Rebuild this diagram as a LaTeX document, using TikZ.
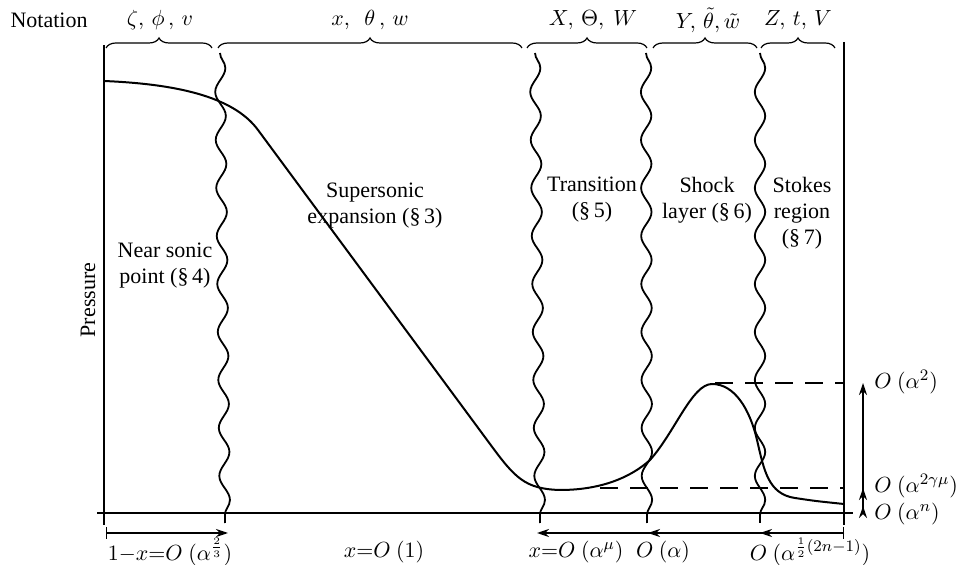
\documentclass[tikz,border=0pt]{standalone}
\usepackage{fontspec}
\setmainfont{Liberation Serif}
\usetikzlibrary{decorations.pathreplacing,decorations.pathmorphing,arrows.meta}
\begin{document}
\begin{tikzpicture}[x=0.5pt,y=-0.5pt, font=\fontsize{11}{13}\selectfont,
 axis/.style={line width=1pt},
 wavy/.style={line width=0.9pt, decorate, decoration={snake, segment length=24pt, amplitude=2.6pt}},
 brc/.style={line width=0.6pt, decorate, decoration={brace, amplitude=5pt}},
 curve/.style={line width=1pt},
 dsh/.style={line width=0.7pt, dash pattern=on 9pt off 6pt},
 arr/.style={line width=0.7pt, -{Stealth[length=6pt,width=4pt]}},
 barr/.style={line width=0.7pt, {Bar[width=6pt]}-{Stealth[length=6pt,width=4pt]}},
 lbl/.style={align=center, inner sep=1pt}]
\useasboundingbox (0,0) rectangle (957,565);
% axes
\coordinate (lt) at (104,45); \coordinate (lb) at (104,525);
\coordinate (rt) at (844,42); \coordinate (rb) at (844,525);
\coordinate (hl) at (97,513); \coordinate (hr) at (853,513);
\draw[axis] (lt) -- (lb);
\draw[axis] (rt) -- (rb);
\draw[axis] (hl) -- (hr);
% wavy boundaries
\coordinate (w1t) at (220,53); \coordinate (w1b) at (225,523);
\coordinate (w2t) at (535,53); \coordinate (w2b) at (540,523);
\coordinate (w3t) at (646,53); \coordinate (w3b) at (647,523);
\coordinate (w4t) at (760,53); \coordinate (w4b) at (760,523);
\draw[wavy] (w1t) -- (w1b);
\draw[wavy] (w2t) -- (w2b);
\draw[wavy] (w3t) -- (w3b);
\draw[wavy] (w4t) -- (w4b);
% braces
\draw[brc] (106,48) -- (212,48);
\draw[brc] (218,48) -- (522,48);
\draw[brc] (527,48) -- (647,48);
\draw[brc] (653,48) -- (757,48);
\draw[brc] (761,48) -- (835,48);
\node[lbl] (not) at (49,20) {Notation};
\node[lbl] (n1) at (160,20) {$\zeta,\, \phi\,,\, v$};
\node[lbl] (n2) at (370,20) {$x,\ \ \theta\,,\, w$};
\node[lbl] (n3) at (593,20) {$X,\, \Theta,\ W$};
\node[lbl] (n4) at (708,20) {$Y,\,\tilde\theta,\tilde w$};
\node[lbl] (n5) at (798,20) {$Z,\,t,\,V$};
% pressure curve
\draw[curve] (104,81) .. controls (175,84) and (233,96) .. (258,130)
  -- (490,444) .. controls (515,478) and (525,489) .. (560,490)
  .. controls (600,490) and (630,478) .. (650,460)
  .. controls (675,432) and (692,384) .. (712,384)
  .. controls (735,384) and (750,410) .. (757,440)
  .. controls (764,470) and (768,494) .. (795,498)
  .. controls (815,501) .. (844,504);
% dashed levels
\coordinate (d1) at (715,383); \coordinate (d1r) at (844,383);
\coordinate (d2) at (600,488); \coordinate (d2r) at (844,488);
\draw[dsh] (d1) -- (d1r);
\draw[dsh] (d2) -- (d2r);
% right order arrows
\coordinate (r0) at (863,513); \coordinate (r1) at (863,383);
\coordinate (r2) at (863,488); \coordinate (r3) at (863,506);
\draw[arr] (r0) -- (r1);
\draw[arr] (r0) -- (r2);
\draw[arr] (r0) -- (r3);
\node[lbl, anchor=west] (o1) at (872,382) {$O\ (\alpha^2)$};
\node[lbl, anchor=west] (o2) at (872,486) {$O\ (\alpha^{2\gamma\mu})$};
\node[lbl, anchor=west] (o3) at (872,514) {$O\ (\alpha^n)$};
% bottom scale arrows
\coordinate (b0) at (106,533); \coordinate (b1) at (228,533);
\coordinate (b2) at (537,533); \coordinate (b3) at (648,533);
\coordinate (b4) at (760,533); \coordinate (b5) at (844,533);
\draw[barr] (b0) -- (b1);
\draw[barr] (b5) -- (b2);
\draw[arr] (b5) -- (b3);
\draw[arr] (b5) -- (b4);
\node[lbl] (x1) at (170,552) {$1{-}x{=}O\ (\alpha^{\frac{2}{3}})$};
\node[lbl] (x2) at (384,552) {$x{=}O\ (1)$};
\node[lbl] (x3) at (576,552) {$x{=}O\ (\alpha^{\mu})$};
\node[lbl] (x4) at (663,552) {$O\ (\alpha)$};
\node[lbl] (x5) at (810,552) {$O\ (\alpha^{\frac{1}{2}(2n-1)})$};
% region labels
\node[lbl, rotate=90] (pr) at (88,300) {Pressure};
\node[lbl] (r4) at (165,266) {Near sonic\\point (\S\,4)};
\node[lbl] (r3l) at (375,206) {Supersonic\\expansion (\S\,3)};
\node[lbl] (r5) at (592,200) {Transition\\(\S\,5)};
\node[lbl] (r6) at (707,200) {Shock\\layer (\S\,6)};
\node[lbl] (r7) at (802,213) {Stokes\\region\\(\S\,7)};
\end{tikzpicture}
\end{document}
